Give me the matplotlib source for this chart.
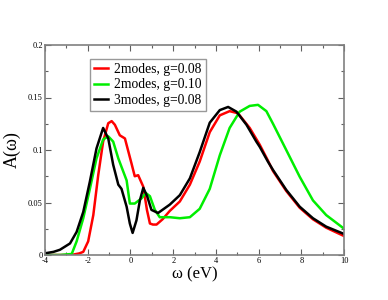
import numpy as np
import matplotlib
matplotlib.use("Agg")
import matplotlib.pyplot as plt
from matplotlib.ticker import MultipleLocator

plt.rcParams['font.family'] = ['Liberation Serif', 'DejaVu Serif']

# 2modes, g=0.08 (red)
red_x = [-4, -3, -2.7, -2.4, -2.21, -1.98, -1.74, -1.51, -1.28, -1.04, -0.88, -0.73, -0.5,
         -0.26, 0.05, 0.2, 0.36, 0.6, 0.77, 0.91, 1.05, 1.22, 1.5, 1.84, 2.31, 2.78, 3.24,
         3.71, 4.18, 4.64, 5.03, 5.58, 6.05, 6.43, 6.67, 7.29, 7.92, 8.54, 9.16, 10]
red_y = [0, 0, 0.0003, 0.0015, 0.003, 0.013, 0.038, 0.076, 0.108, 0.1255, 0.1275, 0.124, 0.114,
         0.111, 0.087, 0.075, 0.076, 0.065, 0.043, 0.030, 0.029, 0.029, 0.034, 0.042, 0.051, 0.067, 0.089,
         0.117, 0.133, 0.137, 0.135, 0.121, 0.105, 0.090, 0.080, 0.061, 0.045, 0.034, 0.026, 0.018]

# 2modes, g=0.10 (green)
green_x = [-4, -3.3, -2.75, -2.52, -2.21, -1.9, -1.59, -1.28, -1.04, -0.81, -0.57, -0.18,
           -0.03, 0.2, 0.52, 0.72, 0.91, 1.14, 1.37, 1.84, 2.31, 2.78, 3.24, 3.71, 4.18,
           4.64, 5.11, 5.58, 5.97, 6.36, 6.67, 7.29, 7.92, 8.54, 9.16, 10]
green_y = [0, 0, 0.001, 0.013, 0.035, 0.063, 0.092, 0.110, 0.113, 0.108, 0.092, 0.071,
           0.049, 0.049, 0.054, 0.059, 0.056, 0.043, 0.036, 0.036, 0.035, 0.036, 0.044, 0.063, 0.095,
           0.121, 0.1365, 0.142, 0.143, 0.137, 0.125, 0.100, 0.0745, 0.052, 0.038, 0.025]

# 3modes, g=0.08 (black)
black_x = [-4, -3.6, -3.3, -2.83, -2.52, -2.21, -1.9, -1.59, -1.28, -1.04, -0.81, -0.57,
           -0.42, -0.18, -0.03, 0.1, 0.28, 0.44, 0.6, 0.78, 0.98, 1.29, 1.84, 2.31, 2.78,
           3.24, 3.71, 4.18, 4.57, 4.96, 5.43, 5.89, 6.05, 6.43, 6.67, 7.29, 7.92, 8.54, 9.16, 10]
black_y = [0.0016, 0.003, 0.005, 0.011, 0.022, 0.041, 0.070, 0.1015, 0.121, 0.111, 0.086, 0.067,
           0.063, 0.046, 0.030, 0.021, 0.033, 0.052, 0.064, 0.056, 0.043, 0.040, 0.048, 0.057, 0.073,
           0.098, 0.126, 0.138, 0.141, 0.1365, 0.124, 0.108, 0.103, 0.089, 0.081, 0.062, 0.046, 0.035, 0.027, 0.020]

fig = plt.figure(figsize=(3.88, 3.0), dpi=100)
ax = fig.add_axes([0.116, 0.15, 0.771, 0.70])

ax.plot(red_x, red_y, color='#ff0000', lw=1.8, label='2modes, g=0.08')
ax.plot(green_x, green_y, color='#00ee00', lw=1.8, label='2modes, g=0.10')
ax.plot(black_x, black_y, color='black', lw=1.8, label='3modes, g=0.08')

ax.set_xlim(-4, 10)
ax.set_ylim(0, 0.2)
ax.xaxis.set_minor_locator(MultipleLocator(1))
ax.yaxis.set_minor_locator(MultipleLocator(0.025))
ax.set_xticks([-4, -2, 0, 2, 4, 6, 8, 10])
ax.set_xticklabels(['-4', '-2', '0', '2', '4', '6', '8', '10'])
ax.set_yticks([0, 0.05, 0.1, 0.15, 0.2])
ax.set_yticklabels(['0', '0.05', '0.1', '0.15', '0.2'])

for s in ax.spines.values():
    s.set_color('#808080')
    s.set_linewidth(1.2)
ax.tick_params(which='both', direction='in', top=True, right=True, color='#606060',
               labelsize=6, pad=1.5)
ax.tick_params(which='major', length=4, width=0.8)
ax.tick_params(which='minor', length=2, width=0.8)

ax.set_xlabel('ω (eV)', fontsize=12, labelpad=1)
ax.set_ylabel('A(ω)', fontsize=13, labelpad=5)

leg = ax.legend(loc='upper left', bbox_to_anchor=(0.15, 0.935), fontsize=9.8,
                frameon=True, fancybox=False, handlelength=1.0, handletextpad=0.5,
                labelspacing=0.2, borderpad=0.3, borderaxespad=0)
leg.get_frame().set_edgecolor('#808080')
leg.get_frame().set_linewidth(1.0)

fig.savefig('out.png', dpi=100)
